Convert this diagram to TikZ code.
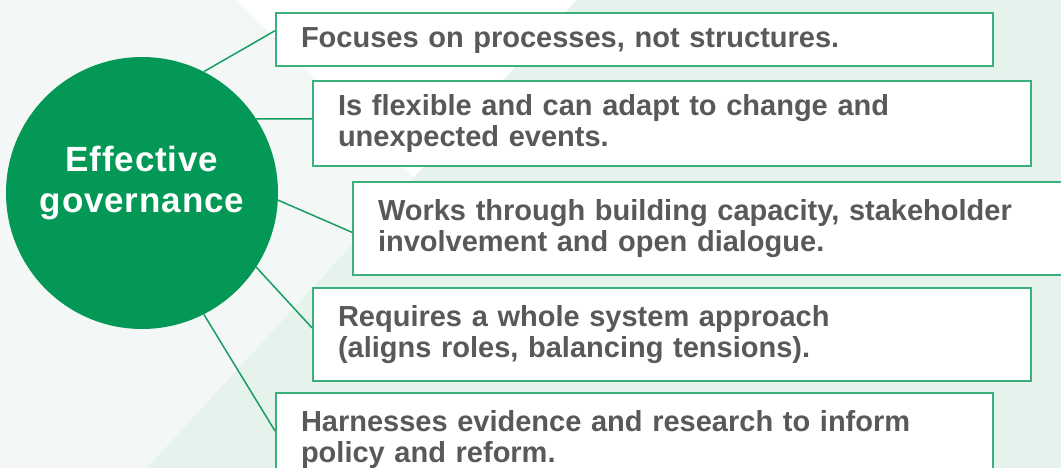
\documentclass[tikz,border=0pt]{standalone}
\usepackage{fontspec}
\setmainfont{Liberation Sans}
\newfontfamily\kreisfont[LetterSpace=2.5]{Liberation Sans}
\usepackage{tikz}
\usetikzlibrary{calc}

\definecolor{kreisgruen}{RGB}{3,152,85}
\definecolor{rahmengruen}{RGB}{60,175,122}
\definecolor{liniengruen}{RGB}{22,158,96}
\definecolor{hellgrund}{RGB}{243,248,246}
\definecolor{mintgrund}{RGB}{230,243,237}
\definecolor{textgrau}{RGB}{89,89,89}

\begin{document}
\begin{tikzpicture}[x=1pt, y=-1pt,
    kasten/.style={draw=rahmengruen, line width=2pt, fill=white,
        anchor=north west, inner xsep=25pt, inner ysep=0pt,
        align=left, text=textgrau,
        font=\fontsize{29pt}{31pt}\selectfont\bfseries},
    verbindung/.style={draw=liniengruen, line width=1.5pt}]

    % Rahmen der Seite
    \useasboundingbox (0,0) rectangle (1061,468);
    \clip (0,0) rectangle (1061,468);

    % Hintergrundflaechen
    \fill[hellgrund] (0,0) rectangle (1061,468);
    \fill[white] (237,0) -- (577,0) -- (414,177) -- cycle;
    \fill[mintgrund] (577,0) -- (1061,0) -- (1061,468) -- (147,468) -- cycle;

    % Kaesten mit den Aussagen
    \node[kasten, text width=667pt, minimum height=53pt, text depth=3pt] (b1) at (275,12)
        {Focuses on processes, not structures.};
    \node[kasten, text width=668pt, minimum height=85pt] (b2) at (312,80)
        {Is flexible and can adapt to change and\\unexpected events.};
    \node[kasten, text width=710pt, minimum height=93pt] (b3) at (352,181)
        {Works through building capacity, stakeholder\\involvement and open dialogue.};
    \node[kasten, text width=668pt, minimum height=93pt] (b4) at (312,287)
        {Requires a whole system approach\\(aligns roles, balancing tensions).};
    \node[kasten, text width=667pt, minimum height=93pt] (b5) at (275,392)
        {Harnesses evidence and research to inform\\policy and reform.};

    % Kreis in der Mitte
    \node[circle, fill=kreisgruen, minimum size=272pt, inner sep=0pt] (hub) at (142,193) {};
    \node[text=white, align=center,
        font=\kreisfont\fontsize{35pt}{41pt}\selectfont\bfseries] (titel) at (142,183.5)
        {Effective\\governance};

    % Verbindungslinien zu den Kaesten
    \draw[verbindung] (hub.63.4) -- ($(b1.north west)!0.34!(b1.south west)$);
    \draw[verbindung] (hub.33.4) -- ($(b2.north west)!0.447!(b2.south west)$);
    \draw[verbindung] (hub.-3.8) -- ($(b3.north west)!0.54!(b3.south west)$);
    \draw[verbindung] (hub.-33.6) -- ($(b4.north west)!0.43!(b4.south west)$);
    \draw[verbindung] (hub.-63.4) -- ($(b5.north west)!0.41!(b5.south west)$);

\end{tikzpicture}
\end{document}
